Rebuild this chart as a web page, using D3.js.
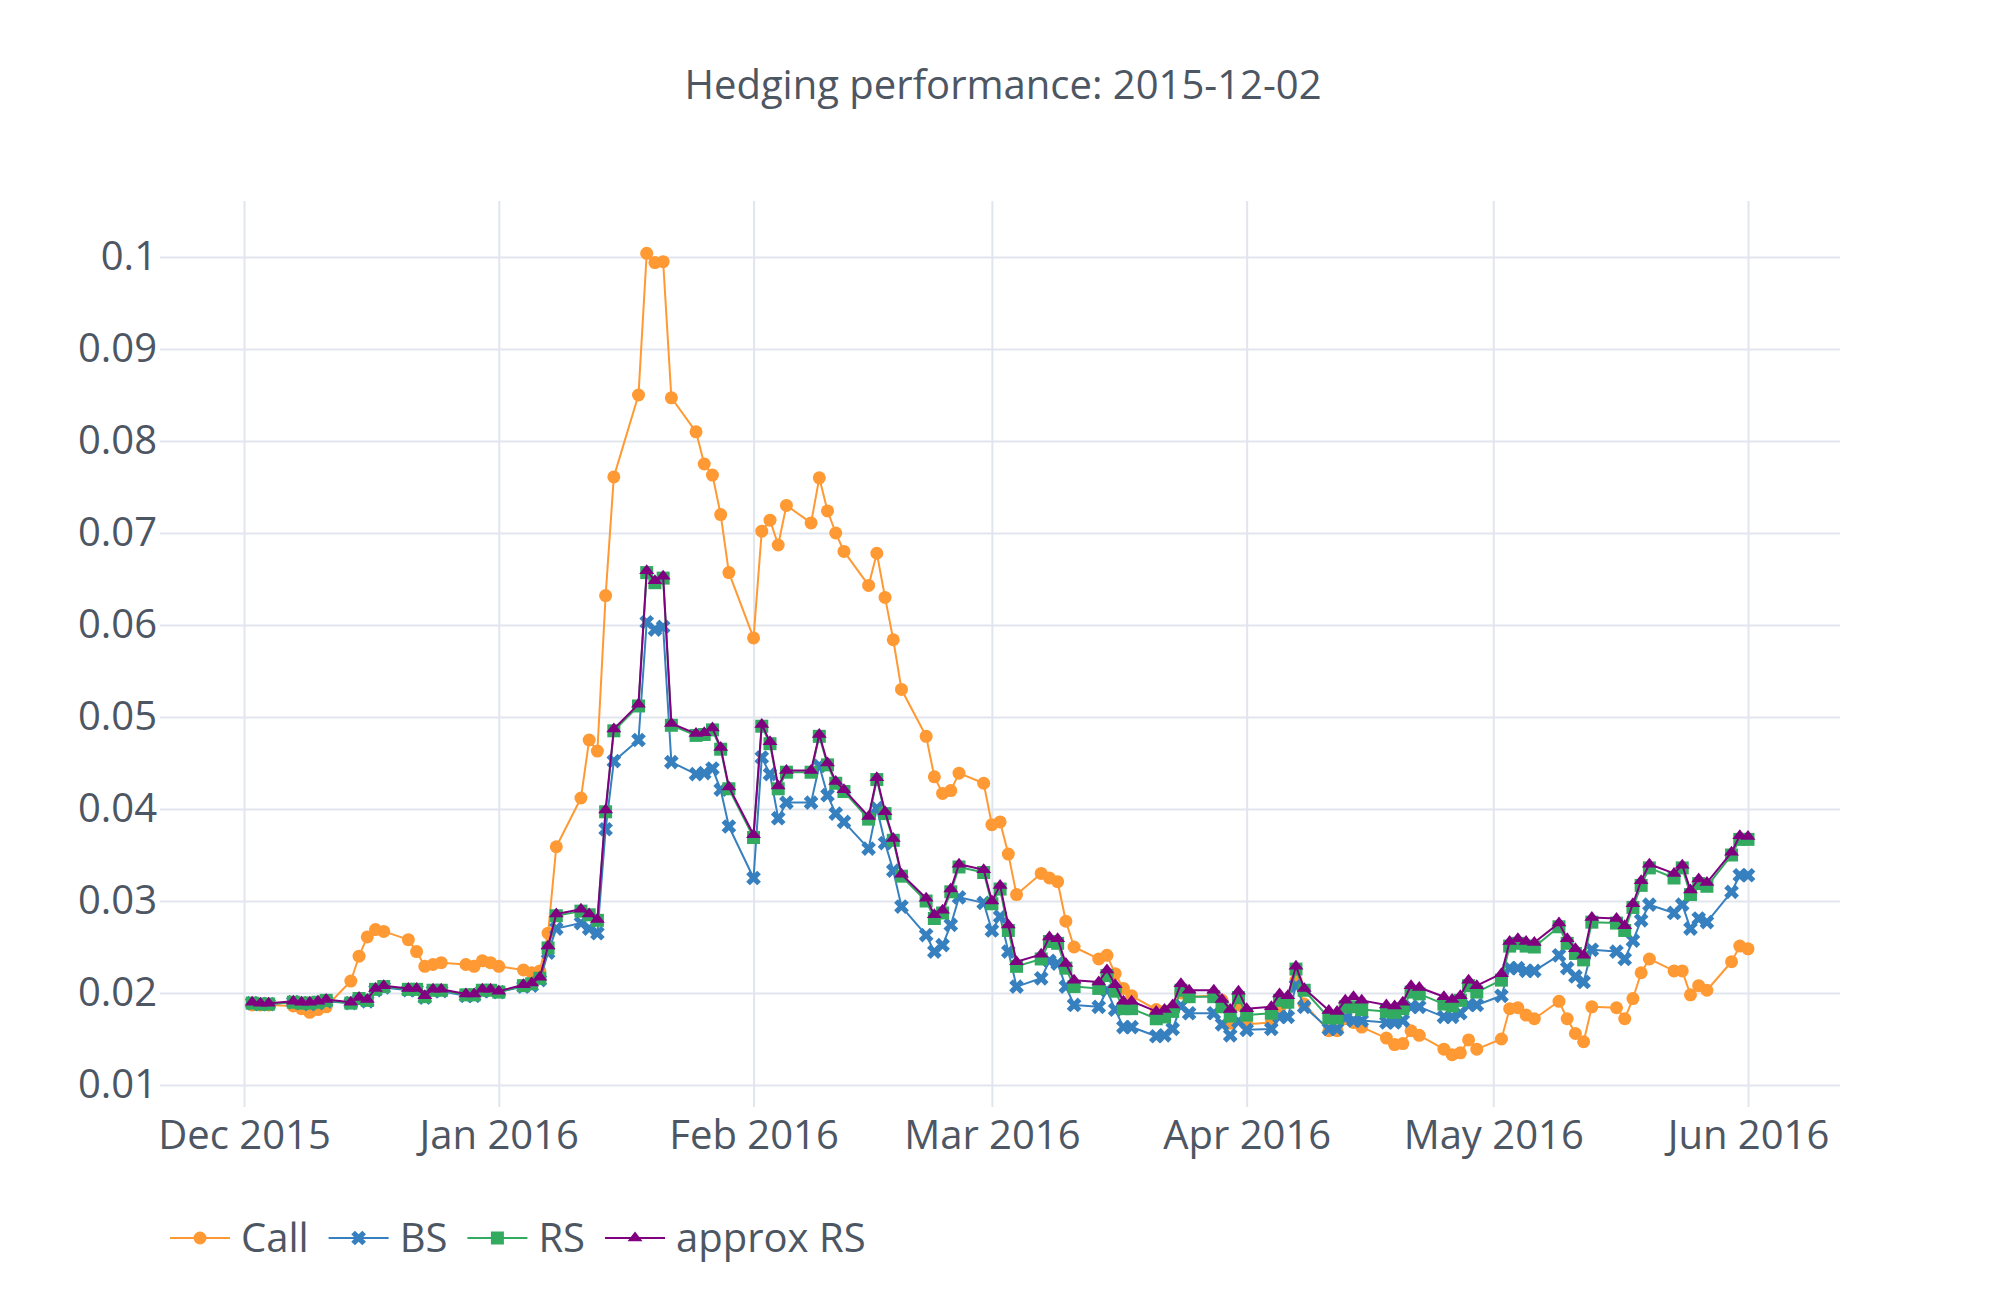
<!DOCTYPE html>
<html>
<head>
<meta charset="utf-8">
<script src="https://cdn.jsdelivr.net/npm/d3@7"></script>
<style>
body { margin: 0; background: #fff; }
text { font-family: "Open Sans", sans-serif; fill: #4D5663; }
</style>
</head>
<body>
<div id="chart-area"></div>
<script>
/*
*    hedging performance chart
*/

// weekdays, Dec 2 2015 - Jun 1 2016
var dates = [
    "2015-12-02","2015-12-03","2015-12-04","2015-12-07","2015-12-08","2015-12-09","2015-12-10","2015-12-11",
    "2015-12-14","2015-12-15","2015-12-16","2015-12-17","2015-12-18","2015-12-21","2015-12-22","2015-12-23",
    "2015-12-24","2015-12-25","2015-12-28","2015-12-29","2015-12-30","2015-12-31",
    "2016-01-01","2016-01-04","2016-01-05","2016-01-06","2016-01-07","2016-01-08","2016-01-11","2016-01-12",
    "2016-01-13","2016-01-14","2016-01-15","2016-01-18","2016-01-19","2016-01-20","2016-01-21","2016-01-22",
    "2016-01-25","2016-01-26","2016-01-27","2016-01-28","2016-01-29",
    "2016-02-01","2016-02-02","2016-02-03","2016-02-04","2016-02-05","2016-02-08","2016-02-09","2016-02-10",
    "2016-02-11","2016-02-12","2016-02-15","2016-02-16","2016-02-17","2016-02-18","2016-02-19","2016-02-22",
    "2016-02-23","2016-02-24","2016-02-25","2016-02-26","2016-02-29",
    "2016-03-01","2016-03-02","2016-03-03","2016-03-04","2016-03-07","2016-03-08","2016-03-09","2016-03-10",
    "2016-03-11","2016-03-14","2016-03-15","2016-03-16","2016-03-17","2016-03-18","2016-03-21","2016-03-22",
    "2016-03-23","2016-03-24","2016-03-25","2016-03-28","2016-03-29","2016-03-30","2016-03-31",
    "2016-04-01","2016-04-04","2016-04-05","2016-04-06","2016-04-07","2016-04-08","2016-04-11","2016-04-12",
    "2016-04-13","2016-04-14","2016-04-15","2016-04-18","2016-04-19","2016-04-20","2016-04-21","2016-04-22",
    "2016-04-25","2016-04-26","2016-04-27","2016-04-28","2016-04-29",
    "2016-05-02","2016-05-03","2016-05-04","2016-05-05","2016-05-06","2016-05-09","2016-05-10","2016-05-11",
    "2016-05-12","2016-05-13","2016-05-16","2016-05-17","2016-05-18","2016-05-19","2016-05-20","2016-05-23",
    "2016-05-24","2016-05-25","2016-05-26","2016-05-27","2016-05-30","2016-05-31",
    "2016-06-01"
];

var call = [
    0.0187,0.0187,0.0187,0.0186,0.0183,0.0179,0.0182,0.0185,0.0213,0.0240,0.0261,0.0269,0.0267,0.0258,0.0245,0.0229,0.0231,0.0233,0.0231,0.0229,0.0235,0.0233,
    0.0229,0.0225,0.0222,0.0224,0.0265,0.0359,0.0412,0.0475,0.0463,0.0632,0.0761,0.0850,0.1004,0.0994,0.0995,0.0847,0.0810,0.0775,0.0763,0.0720,0.0657,
    0.0586,0.0702,0.0714,0.0687,0.0730,0.0711,0.0760,0.0724,0.0700,0.0680,0.0643,0.0678,0.0630,0.0584,0.0530,0.0479,0.0435,0.0417,0.0420,0.0439,0.0428,
    0.0383,0.0386,0.0351,0.0307,0.0330,0.0325,0.0321,0.0278,0.0250,0.0237,0.0241,0.0221,0.0205,0.0197,0.0182,0.0180,0.0183,0.0200,0.0196,0.0197,0.0192,0.0167,0.0187,
    0.0166,0.0168,0.0183,0.0190,0.0214,0.0188,0.0159,0.0159,0.0172,0.0168,0.0163,0.0151,0.0144,0.0145,0.0159,0.0154,0.0139,0.0133,0.0135,0.0149,0.0139,
    0.0150,0.0183,0.0184,0.0176,0.0172,0.0191,0.0172,0.0156,0.0147,0.0185,0.0184,0.0172,0.0194,0.0222,0.0237,0.0224,0.0224,0.0198,0.0208,0.0203,0.0234,0.0251,
    0.0248
];

var bs = [
    0.0189,0.0188,0.0188,0.0190,0.0189,0.0188,0.0189,0.0191,0.0189,0.0193,0.0191,0.0203,0.0206,0.0203,0.0203,0.0195,0.0202,0.0202,0.0197,0.0197,0.0202,0.0202,
    0.0201,0.0207,0.0208,0.0214,0.0244,0.0270,0.0276,0.0270,0.0265,0.0378,0.0452,0.0475,0.0603,0.0595,0.0598,0.0451,0.0438,0.0439,0.0444,0.0421,0.0381,
    0.0325,0.0456,0.0438,0.0390,0.0407,0.0407,0.0447,0.0415,0.0395,0.0386,0.0357,0.0401,0.0363,0.0333,0.0294,0.0263,0.0245,0.0252,0.0274,0.0304,0.0298,
    0.0268,0.0283,0.0245,0.0207,0.0216,0.0235,0.0232,0.0207,0.0187,0.0185,0.0203,0.0182,0.0163,0.0163,0.0153,0.0154,0.0161,0.0186,0.0178,0.0178,0.0166,0.0154,0.0169,
    0.0160,0.0161,0.0174,0.0174,0.0208,0.0185,0.0161,0.0161,0.0173,0.0170,0.0170,0.0168,0.0168,0.0170,0.0185,0.0185,0.0174,0.0174,0.0178,0.0187,0.0187,
    0.0197,0.0227,0.0227,0.0224,0.0224,0.0241,0.0227,0.0218,0.0212,0.0247,0.0245,0.0237,0.0257,0.0279,0.0296,0.0287,0.0296,0.0270,0.0281,0.0277,0.0310,0.0328,
    0.0328
];

var rs = [
    0.0189,0.0188,0.0188,0.0190,0.0189,0.0189,0.0190,0.0192,0.0189,0.0194,0.0192,0.0204,0.0207,0.0204,0.0204,0.0196,0.0203,0.0203,0.0198,0.0198,0.0203,0.0203,
    0.0201,0.0208,0.0210,0.0216,0.0249,0.0284,0.0289,0.0285,0.0279,0.0397,0.0485,0.0512,0.0657,0.0646,0.0651,0.0491,0.0480,0.0481,0.0486,0.0465,0.0422,
    0.0369,0.0490,0.0471,0.0422,0.0440,0.0440,0.0479,0.0448,0.0428,0.0419,0.0389,0.0432,0.0395,0.0366,0.0327,0.0300,0.0281,0.0287,0.0310,0.0337,0.0331,
    0.0297,0.0313,0.0268,0.0229,0.0237,0.0256,0.0254,0.0227,0.0207,0.0205,0.0219,0.0202,0.0183,0.0183,0.0172,0.0174,0.0180,0.0203,0.0196,0.0196,0.0185,0.0175,0.0195,
    0.0176,0.0178,0.0192,0.0190,0.0226,0.0203,0.0173,0.0173,0.0185,0.0185,0.0182,0.0180,0.0179,0.0183,0.0201,0.0199,0.0188,0.0186,0.0192,0.0208,0.0201,
    0.0214,0.0251,0.0254,0.0251,0.0250,0.0272,0.0254,0.0243,0.0236,0.0277,0.0276,0.0268,0.0293,0.0317,0.0336,0.0325,0.0336,0.0307,0.0319,0.0316,0.0350,0.0367,
    0.0367
];

var approxRs = [
    0.0190,0.0189,0.0189,0.0191,0.0190,0.0190,0.0191,0.0193,0.0190,0.0195,0.0193,0.0205,0.0208,0.0205,0.0205,0.0197,0.0204,0.0204,0.0199,0.0199,0.0204,0.0204,
    0.0202,0.0209,0.0211,0.0217,0.0251,0.0286,0.0291,0.0286,0.0280,0.0399,0.0487,0.0514,0.0659,0.0648,0.0653,0.0493,0.0482,0.0483,0.0488,0.0467,0.0424,
    0.0372,0.0492,0.0473,0.0425,0.0442,0.0442,0.0481,0.0450,0.0430,0.0421,0.0392,0.0434,0.0397,0.0368,0.0329,0.0303,0.0285,0.0290,0.0313,0.0340,0.0334,
    0.0300,0.0317,0.0274,0.0234,0.0242,0.0261,0.0259,0.0232,0.0214,0.0212,0.0225,0.0209,0.0191,0.0191,0.0180,0.0182,0.0187,0.0210,0.0203,0.0203,0.0193,0.0182,0.0202,
    0.0183,0.0185,0.0199,0.0197,0.0229,0.0205,0.0181,0.0180,0.0192,0.0196,0.0192,0.0187,0.0186,0.0190,0.0208,0.0206,0.0196,0.0193,0.0197,0.0214,0.0208,
    0.0221,0.0256,0.0259,0.0256,0.0255,0.0276,0.0259,0.0248,0.0241,0.0282,0.0281,0.0273,0.0297,0.0322,0.0340,0.0330,0.0339,0.0312,0.0324,0.0320,0.0353,0.0371,
    0.0370
];

var yTicks = [0.01, 0.02, 0.03, 0.04, 0.05, 0.06, 0.07, 0.08, 0.09, 0.1];
var seriesNames = ["Call", "BS", "RS", "approx RS"];

console.log(dates.length, call.length, bs.length, rs.length, approxRs.length);

var parseDate = d3.timeParse("%Y-%m-%d");
var days = dates.map(parseDate);

var W = 2000, H = 1300;
var plotLeft = 160, plotRight = 1840, plotTop = 201, plotBottom = 1107;
var fontSize = 40;
var r = 6.5;

var svg = d3.select("#chart-area").append("svg")
    .attr("width", W)
    .attr("height", H);

var x = d3.scaleTime()
    .domain([new Date(2015, 11, 1), new Date(2016, 5, 1)])
    .range([244, 1748]);

var y = d3.scaleLinear()
    .domain([0.00761, 0.10609])
    .range([plotBottom, plotTop]);

// plotly-ish marker shapes
var symbols = {
    "circle": (r)=>{
        return "M" + r + ",0A" + r + "," + r + " 0 1,1 0,-" + r + "A" + r + "," + r + " 0 0,1 " + r + ",0Z";
    },
    "x": (r)=>{
        var a = r * 0.8 / Math.sqrt(2);
        var ne = "l" + a + "," + a, se = "l" + a + ",-" + a, sw = "l-" + a + ",-" + a, nw = "l-" + a + "," + a;
        return "M0," + a + ne + se + sw + se + sw + nw + sw + nw + ne + nw + ne + "Z";
    },
    "square": (r)=>{
        return "M" + r + "," + r + "H-" + r + "V-" + r + "H" + r + "Z";
    },
    "triangle-up": (r)=>{
        var rt = r * 2 / Math.sqrt(3), r2 = r / 2;
        return "M-" + rt + "," + r2 + "H" + rt + "L0,-" + r + "Z";
    }
};

var series = [
    {name: seriesNames[0], values: call, color: "#ff9933", symbol: "circle"},
    {name: seriesNames[1], values: bs, color: "#3780bf", symbol: "x"},
    {name: seriesNames[2], values: rs, color: "#32ab60", symbol: "square"},
    {name: seriesNames[3], values: approxRs, color: "#800080", symbol: "triangle-up"}
];

// title
svg.append("text")
    .attr("x", 1003)
    .attr("y", 99)
    .attr("text-anchor", "middle")
    .style("font-size", fontSize + "px")
    .text("Hedging performance: 2015-12-02");

// y axis + horizontal grid
var yAxis = svg.append("g")
    .attr("transform", "translate(" + plotLeft + ",0)")
    .call(d3.axisLeft(y)
        .tickValues(yTicks)
        .tickFormat(d3.format("~g"))
        .tickSize(-(plotRight - plotLeft))
        .tickPadding(3));

// x axis + vertical grid
var xAxis = svg.append("g")
    .attr("transform", "translate(0," + plotBottom + ")")
    .call(d3.axisBottom(x)
        .ticks(d3.timeMonth.every(1))
        .tickFormat(d3.timeFormat("%b %Y"))
        .tickSize(-(plotBottom - plotTop))
        .tickPadding(14));

[yAxis, xAxis].forEach((g)=>{
    g.select(".domain").remove();
    g.selectAll(".tick line")
        .attr("stroke", "#E1E5ED")
        .attr("stroke-width", 2);
    g.selectAll(".tick text")
        .attr("fill", "#4D5663")
        .style("font-family", "'Open Sans', sans-serif")
        .style("font-size", fontSize + "px");
});

var line = d3.line()
    .x((d, i)=>{ return x(days[i]); })
    .y((d)=>{ return y(d); });

series.forEach((s)=>{
    var g = svg.append("g");

    g.append("path")
        .datum(s.values)
        .attr("d", line)
        .attr("fill", "none")
        .attr("stroke", s.color)
        .attr("stroke-width", 2)
        .attr("stroke-linejoin", "round");

    g.selectAll("path.pt")
        .data(s.values)
        .enter()
        .append("path")
            .attr("class", "pt")
            .attr("transform", (d, i)=>{ return "translate(" + x(days[i]) + "," + y(d) + ")"; })
            .attr("d", symbols[s.symbol](r))
            .attr("fill", s.color);
});

// legend along the bottom
var legend = svg.append("g")
    .attr("transform", "translate(0,1238)");

var cursor = plotLeft;
series.forEach((s)=>{
    var item = legend.append("g")
        .attr("transform", "translate(" + cursor + ",0)");

    item.append("line")
        .attr("x1", 10)
        .attr("x2", 70)
        .attr("stroke", s.color)
        .attr("stroke-width", 2);

    item.append("path")
        .attr("transform", "translate(40,0)")
        .attr("d", symbols[s.symbol](r))
        .attr("fill", s.color);

    var label = item.append("text")
        .attr("x", 81)
        .attr("y", 14)
        .style("font-size", fontSize + "px")
        .text(s.name);

    cursor += 81 + label.node().getComputedTextLength() + 10;
});

</script>
</body>
</html>
